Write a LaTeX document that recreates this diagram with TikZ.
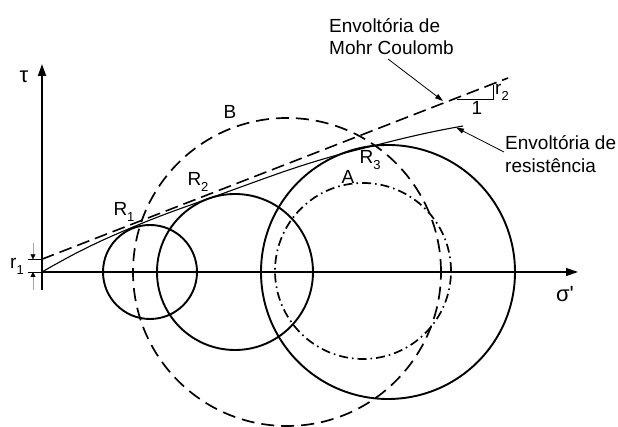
\documentclass[tikz,border=0pt]{standalone}
\usepackage{fontspec}
\setmainfont{Liberation Sans}
\newfontfamily\nomapfont{Liberation Sans}[Ligatures=TeXOff]
\usetikzlibrary{arrows.meta}
\newcommand\sbs[1]{\raisebox{-0.32em}{\fontsize{13}{13}\selectfont #1}}
\begin{document}
\begin{tikzpicture}[x=1pt,y=1pt,
  lbl/.style={font=\fontsize{19}{22.5}\selectfont, inner sep=0pt, align=left},
  greek/.style={font=\fontsize{22}{24}\selectfont\nomapfont, inner sep=0pt},
  axisline/.style={line width=1.9pt, -{Triangle[length=12pt,width=8pt]}},
  haxis/.style={line width=1.2pt, -{Triangle[length=12pt,width=8pt]}},
  mohr/.style={circle, draw, line width=1.9pt, inner sep=0pt, outer sep=0pt},
  mcline/.style={line width=1.6pt, dash pattern=on 13pt off 6pt},
  envel/.style={line width=1.1pt},
  callout/.style={line width=0.8pt, -{Triangle[length=8pt,width=5pt]}},
  tick/.style={line width=0.8pt},
  dimarrow/.style={line width=0.4pt, draw=black!35, -{Triangle[length=5pt,width=5pt,fill=black,color=black]}}
]
\useasboundingbox (0,0) rectangle (618,427);

% axes
\coordinate (O) at (42,155);
\coordinate (ytop) at (42,363);
\coordinate (ybot) at (42,137);
\coordinate (xend) at (578,155);
\draw[axisline] (ybot) -- (ytop);
\draw[haxis] (O) -- (xend);
\node[greek] (tau) at (24,350) {τ};
\node[greek] (sig) at (565,133) {σ'};

% Mohr circles
\node[mohr, minimum size=94pt] (C1) at (150,155) {};
\node[mohr, minimum size=156pt] (C2) at (235,155) {};
\node[mohr, minimum size=254pt] (C3) at (388,155) {};
\node[mohr, minimum size=308pt, line width=1.7pt, dash pattern=on 13pt off 7pt] (CB) at (287,155) {};
\node[mohr, minimum size=176pt, line width=1.7pt, dash pattern=on 9pt off 4pt on 1.6pt off 4pt] (CA) at (363,156) {};

% Mohr-Coulomb envelope (straight, dashed)
\coordinate (MC0) at (41.7,167.7);
\coordinate (MC1) at (508,349);
\draw[mcline] (MC0) -- (MC1);

% strength envelope (curved)
\coordinate (R1p) at (131.4,199.3);
\coordinate (R2p) at (208.6,228.4);
\coordinate (R3p) at (358.6,277.5);
\coordinate (Eend) at (463,301);
\draw[envel] (O) to[out=30,in=202.8] (R1p) to[out=22.8,in=199.5] (R2p)
  to[out=19.5,in=194] (R3p) to[out=14,in=190] (Eend);

% r1 dimension
\coordinate (t1a) at (28,167.7);
\coordinate (t1b) at (42,167.7);
\coordinate (t2a) at (28,155);
\draw[tick] (t1a) -- (t1b);
\draw[tick] (t2a) -- (O);
\coordinate (d1s) at (33,184);
\coordinate (d1e) at (33,167.7);
\coordinate (d2s) at (33,137);
\coordinate (d2e) at (33,155);
\draw[dimarrow] (d1s) -- (d1e);
\draw[dimarrow] (d2s) -- (d2e);
\node[lbl] (r1) at (17,161) {r\sbs{1}};

% r2 slope triangle
\coordinate (s0) at (457,327.2);
\coordinate (s1) at (493,327.2);
\coordinate (s2) at (493,341.5);
\draw[tick] (s0) -- (s1) -- (s2);
\node[lbl] (one) at (477,319) {1};
\node[lbl] (r2) at (502,335) {r\sbs{2}};

% point labels
\node[lbl] (R1) at (124,215) {R\sbs{1}};
\node[lbl] (R2) at (198,245) {R\sbs{2}};
\node[lbl] (R3) at (370,267) {R\sbs{3}};
\node[lbl] (A) at (348,250) {A};
\node[lbl] (B) at (230,315) {B};

% callouts
\node[lbl, anchor=west] (mctext) at (329,390.5) {Envoltória de\\Mohr Coulomb};
\node[lbl, anchor=west] (rstext) at (505,273) {Envoltória de\\resistência};
\coordinate (mcs) at (388,368);
\coordinate (mce) at (443,326);
\coordinate (rss) at (504,275);
\coordinate (rse) at (456,299.5);
\draw[callout] (mcs) -- (mce);
\draw[callout] (rss) -- (rse);
\end{tikzpicture}
\end{document}
